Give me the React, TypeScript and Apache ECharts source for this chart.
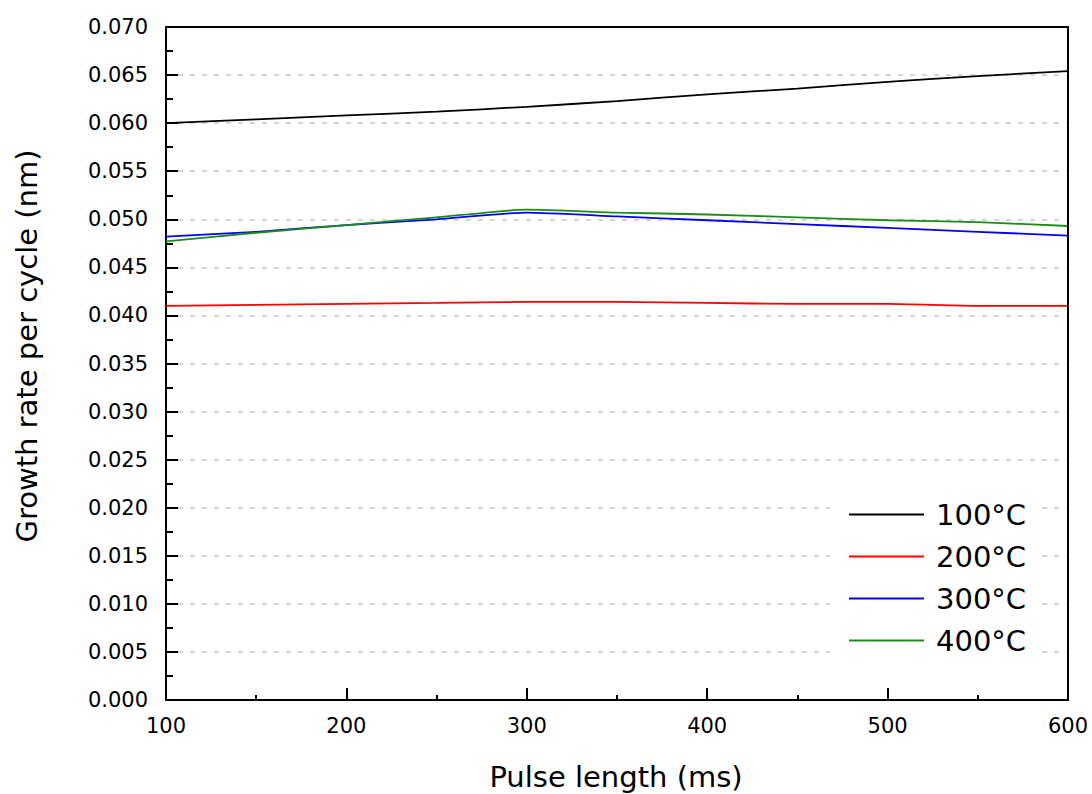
import React, { useEffect, useRef } from "react";
import * as echarts from "echarts";

const pulseLengths = [100, 150, 200, 250, 300, 350, 400, 450, 500, 550, 600];
const seriesNames = ["100°C", "200°C", "300°C", "400°C"];
const rate100 = [0.06, 0.0604, 0.0608, 0.0612, 0.0617, 0.0623, 0.063, 0.0636, 0.0643, 0.0649, 0.0654];
const rate200 = [0.041, 0.0411, 0.0412, 0.0413, 0.0414, 0.0414, 0.0413, 0.0412, 0.0412, 0.041, 0.041];
const rate300 = [0.0482, 0.0487, 0.0494, 0.05, 0.0507, 0.0503, 0.0499, 0.0495, 0.0491, 0.0487, 0.0483];
const rate400 = [0.0477, 0.0486, 0.0494, 0.0502, 0.051, 0.0507, 0.0505, 0.0502, 0.0499, 0.0497, 0.0493];
const seriesColors = ["#000000", "#ff0000", "#0000ff", "#1a8c1a"];
const xTitle = "Pulse length (ms)";
const yTitle = "Growth rate per cycle (nm)";

const FONT = "DejaVu Sans";

export default function App() {
  const ref = useRef<HTMLDivElement>(null);
  useEffect(() => {
    if (!ref.current) return;
    const chart = echarts.init(ref.current, null, { renderer: "svg" });
    const allRates = [rate100, rate200, rate300, rate400];
    const frameAxis = {
      axisLine: { show: true, onZero: false, lineStyle: { color: "#000", width: 2 } },
      axisTick: { show: false },
      axisLabel: { show: false },
      splitLine: { show: false },
      z: 10,
    };
    chart.setOption({
      animation: false,
      backgroundColor: "#ffffff",
      grid: {
        left: 166,
        right: 24,
        top: 27,
        bottom: 94,
        show: false,
      },
      xAxis: [
        {
          type: "value",
          min: 100,
          max: 600,
          interval: 100,
          axisLine: { show: true, onZero: false, lineStyle: { color: "#000", width: 2 } },
          axisTick: { show: true, inside: true, length: 12, lineStyle: { color: "#000", width: 2 } },
          minorTick: { show: true, splitNumber: 2, length: 5, lineStyle: { color: "#000", width: 2 } },
          splitLine: { show: false },
          axisLabel: {
            margin: 15,
            color: "#000",
            fontFamily: FONT,
            fontSize: 21,
          },
        },
        { type: "value", position: "top", min: 100, max: 600, interval: 100, ...frameAxis },
      ],
      yAxis: [
        {
          type: "value",
          min: 0,
          max: 0.07,
          interval: 0.005,
          axisLine: { show: true, onZero: false, lineStyle: { color: "#000", width: 2 } },
          axisTick: { show: true, inside: true, length: 12, lineStyle: { color: "#000", width: 2 } },
          minorTick: { show: true, splitNumber: 2, length: 7, lineStyle: { color: "#000", width: 2 } },
          splitLine: {
            show: true,
            lineStyle: { color: "#c8c8c8", width: 1.5, type: [5, 7] },
          },
          axisLabel: {
            margin: 18,
            color: "#000",
            fontFamily: FONT,
            fontSize: 21,
            formatter: (v: number) => v.toFixed(3),
          },
        },
        { type: "value", position: "right", min: 0, max: 0.07, interval: 0.005, ...frameAxis },
      ],
      legend: {
        orient: "vertical",
        left: 830,
        top: 490,
        padding: [9, 16, 12, 19],
        backgroundColor: "#ffffff",
        itemWidth: 75,
        itemHeight: 2,
        itemGap: 11,
        icon: "rect",
        data: seriesNames,
        textStyle: {
          fontFamily: FONT,
          fontSize: 29,
          color: "#000",
          lineHeight: 31,
          padding: [0, 0, 0, 7],
        },
      },
      graphic: [
        {
          type: "text",
          x: 27,
          y: 346,
          rotation: Math.PI / 2,
          style: {
            text: yTitle,
            fontFamily: FONT,
            fontSize: 29,
            fill: "#000",
            align: "center",
            verticalAlign: "middle",
          },
        },
        {
          type: "text",
          x: 616,
          y: 777,
          style: {
            text: xTitle,
            fontFamily: FONT,
            fontSize: 29,
            fill: "#000",
            align: "center",
            verticalAlign: "middle",
          },
        },
      ],
      series: seriesNames.map((name, i) => ({
        name,
        type: "line",
        xAxisIndex: 0,
        yAxisIndex: 0,
        showSymbol: false,
        symbol: "none",
        smooth: 0.2,
        color: seriesColors[i],
        lineStyle: { color: seriesColors[i], width: 1.8 },
        data: pulseLengths.map((x, j) => [x, allRates[i][j]]),
      })),
    });
    return () => chart.dispose();
  }, []);
  return (
    <div
      ref={ref}
      style={{ position: "fixed", left: 0, top: 0, width: 1092, height: 794 }}
    />
  );
}
